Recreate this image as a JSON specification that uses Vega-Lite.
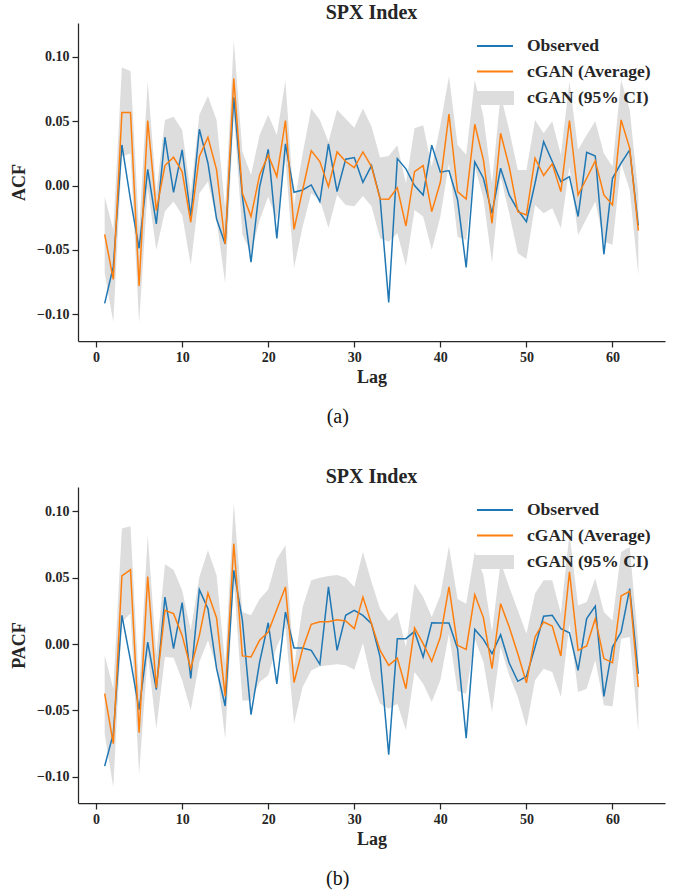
{
  "$schema": "https://vega.github.io/schema/vega-lite/v6.json",
  "padding": {"left": 10, "top": 3, "right": 5, "bottom": 5},
  "background": "white",
  "datasets": {
    "acf": [
      {"lag":1,"obs":-0.0915,"avg":-0.0379,"lo":-0.068,"hi":-0.0086},
      {"lag":2,"obs":-0.063,"avg":-0.0729,"lo":-0.106,"hi":-0.0345},
      {"lag":3,"obs":0.0316,"avg":0.0568,"lo":0.0226,"hi":0.0918},
      {"lag":4,"obs":-0.011,"avg":0.0568,"lo":0.025,"hi":0.089},
      {"lag":5,"obs":-0.0487,"avg":-0.078,"lo":-0.107,"hi":-0.035},
      {"lag":6,"obs":0.0127,"avg":0.0506,"lo":-0.002,"hi":0.081},
      {"lag":7,"obs":-0.0298,"avg":-0.0194,"lo":-0.05,"hi":-0.005},
      {"lag":8,"obs":0.0376,"avg":0.0156,"lo":-0.02,"hi":0.051},
      {"lag":9,"obs":-0.0052,"avg":0.022,"lo":-0.0124,"hi":0.0536},
      {"lag":10,"obs":0.0277,"avg":0.0109,"lo":-0.0228,"hi":0.0433},
      {"lag":11,"obs":-0.024,"avg":-0.0285,"lo":-0.0617,"hi":-0.006},
      {"lag":12,"obs":0.0438,"avg":0.0226,"lo":-0.006,"hi":0.055},
      {"lag":13,"obs":0.0174,"avg":0.0376,"lo":0.0031,"hi":0.0697},
      {"lag":14,"obs":-0.026,"avg":0.0122,"lo":-0.0267,"hi":0.051},
      {"lag":15,"obs":-0.0454,"avg":-0.0454,"lo":-0.076,"hi":-0.018},
      {"lag":16,"obs":0.0687,"avg":0.0833,"lo":0.0562,"hi":0.1127},
      {"lag":17,"obs":-0.0086,"avg":-0.006,"lo":-0.038,"hi":0.0264},
      {"lag":18,"obs":-0.0596,"avg":-0.024,"lo":-0.0526,"hi":0.0083},
      {"lag":19,"obs":-0.001,"avg":0.0083,"lo":-0.0267,"hi":0.0394},
      {"lag":20,"obs":0.0282,"avg":0.0238,"lo":-0.0086,"hi":0.055},
      {"lag":21,"obs":-0.041,"avg":0.007,"lo":-0.0267,"hi":0.0394},
      {"lag":22,"obs":0.0324,"avg":0.0506,"lo":0.02,"hi":0.0817},
      {"lag":23,"obs":-0.0052,"avg":-0.034,"lo":-0.064,"hi":-0.015},
      {"lag":24,"obs":-0.0034,"avg":-0.0034,"lo":-0.032,"hi":0.025},
      {"lag":25,"obs":0.0005,"avg":0.0272,"lo":-0.006,"hi":0.06},
      {"lag":26,"obs":-0.0125,"avg":0.0187,"lo":-0.011,"hi":0.051},
      {"lag":27,"obs":0.0324,"avg":-0.0008,"lo":-0.033,"hi":0.034},
      {"lag":28,"obs":-0.0047,"avg":0.0262,"lo":-0.0073,"hi":0.059},
      {"lag":29,"obs":0.0205,"avg":0.0187,"lo":-0.015,"hi":0.052},
      {"lag":30,"obs":0.0218,"avg":0.014,"lo":-0.016,"hi":0.045},
      {"lag":31,"obs":0.0026,"avg":0.0262,"lo":-0.008,"hi":0.06},
      {"lag":32,"obs":0.0156,"avg":0.0148,"lo":-0.016,"hi":0.046},
      {"lag":33,"obs":-0.0099,"avg":-0.0104,"lo":-0.041,"hi":0.0218},
      {"lag":34,"obs":-0.0908,"avg":-0.0106,"lo":-0.0436,"hi":0.023},
      {"lag":35,"obs":0.021,"avg":-0.0016,"lo":-0.037,"hi":0.0314},
      {"lag":36,"obs":0.013,"avg":-0.0314,"lo":-0.0625,"hi":0.0018},
      {"lag":37,"obs":0.0,"avg":0.0109,"lo":-0.019,"hi":0.0446},
      {"lag":38,"obs":-0.0073,"avg":0.0156,"lo":-0.024,"hi":0.047},
      {"lag":39,"obs":0.0314,"avg":-0.0202,"lo":-0.05,"hi":0.0148},
      {"lag":40,"obs":0.0104,"avg":0.0026,"lo":-0.024,"hi":0.047},
      {"lag":41,"obs":0.0117,"avg":0.0555,"lo":0.0174,"hi":0.085},
      {"lag":42,"obs":-0.011,"avg":-0.0047,"lo":-0.04,"hi":0.0316},
      {"lag":43,"obs":-0.0636,"avg":-0.0104,"lo":-0.042,"hi":0.0239},
      {"lag":44,"obs":0.0184,"avg":0.0477,"lo":0.0148,"hi":0.082},
      {"lag":45,"obs":0.0057,"avg":0.02,"lo":-0.0099,"hi":0.0537},
      {"lag":46,"obs":-0.0215,"avg":-0.0293,"lo":-0.06,"hi":0.0018},
      {"lag":47,"obs":0.0135,"avg":0.0407,"lo":0.007,"hi":0.0706},
      {"lag":48,"obs":-0.0073,"avg":0.0148,"lo":-0.0215,"hi":0.0433},
      {"lag":49,"obs":-0.019,"avg":-0.0202,"lo":-0.0526,"hi":0.0122},
      {"lag":50,"obs":-0.028,"avg":-0.0228,"lo":-0.057,"hi":0.0122},
      {"lag":51,"obs":0.0018,"avg":0.0213,"lo":-0.015,"hi":0.051},
      {"lag":52,"obs":0.0342,"avg":0.0078,"lo":-0.0215,"hi":0.0407},
      {"lag":53,"obs":0.0187,"avg":0.0169,"lo":-0.0176,"hi":0.05},
      {"lag":54,"obs":0.0031,"avg":-0.0047,"lo":-0.0332,"hi":0.0239},
      {"lag":55,"obs":0.007,"avg":0.0506,"lo":0.0148,"hi":0.081},
      {"lag":56,"obs":-0.024,"avg":-0.0073,"lo":-0.0384,"hi":0.0278},
      {"lag":57,"obs":0.0259,"avg":0.0057,"lo":-0.0254,"hi":0.0394},
      {"lag":58,"obs":0.023,"avg":0.0192,"lo":-0.0125,"hi":0.05},
      {"lag":59,"obs":-0.0534,"avg":-0.0073,"lo":-0.0436,"hi":0.025},
      {"lag":60,"obs":0.0057,"avg":-0.015,"lo":-0.046,"hi":0.0148},
      {"lag":61,"obs":0.0174,"avg":0.0511,"lo":0.0174,"hi":0.082},
      {"lag":62,"obs":0.0278,"avg":0.029,"lo":-0.0034,"hi":0.0589},
      {"lag":63,"obs":-0.031,"avg":-0.035,"lo":-0.0695,"hi":-0.006}
    ],
    "pacf": [
      {"lag":1,"obs":-0.092,"avg":-0.0374,"lo":-0.0676,"hi":-0.0085},
      {"lag":2,"obs":-0.0676,"avg":-0.0751,"lo":-0.108,"hi":-0.0337},
      {"lag":3,"obs":0.0216,"avg":0.0513,"lo":0.0166,"hi":0.087},
      {"lag":4,"obs":-0.0123,"avg":0.056,"lo":0.0229,"hi":0.0887},
      {"lag":5,"obs":-0.0495,"avg":-0.0668,"lo":-0.098,"hi":-0.035},
      {"lag":6,"obs":0.0015,"avg":0.0508,"lo":-0.008,"hi":0.082},
      {"lag":7,"obs":-0.0344,"avg":-0.033,"lo":-0.0638,"hi":-0.008},
      {"lag":8,"obs":0.0354,"avg":0.0254,"lo":-0.0098,"hi":0.06},
      {"lag":9,"obs":-0.0035,"avg":0.0229,"lo":-0.0103,"hi":0.056},
      {"lag":10,"obs":0.0312,"avg":0.0065,"lo":-0.0274,"hi":0.0405},
      {"lag":11,"obs":-0.026,"avg":-0.0186,"lo":-0.05,"hi":0.0103},
      {"lag":12,"obs":0.041,"avg":0.0065,"lo":-0.0136,"hi":0.0505},
      {"lag":13,"obs":0.0266,"avg":0.0384,"lo":0.0028,"hi":0.0706},
      {"lag":14,"obs":-0.0186,"avg":0.0196,"lo":-0.0173,"hi":0.0518},
      {"lag":15,"obs":-0.0467,"avg":-0.0395,"lo":-0.0714,"hi":-0.015},
      {"lag":16,"obs":0.0555,"avg":0.0756,"lo":0.048,"hi":0.1063},
      {"lag":17,"obs":0.0178,"avg":-0.009,"lo":-0.0425,"hi":0.0241},
      {"lag":18,"obs":-0.0533,"avg":-0.0098,"lo":-0.0425,"hi":0.0216},
      {"lag":19,"obs":-0.0136,"avg":0.0028,"lo":-0.0286,"hi":0.034},
      {"lag":20,"obs":0.016,"avg":0.009,"lo":-0.0236,"hi":0.041},
      {"lag":21,"obs":-0.03,"avg":0.026,"lo":-0.002,"hi":0.064},
      {"lag":22,"obs":0.0241,"avg":0.043,"lo":0.0128,"hi":0.0744},
      {"lag":23,"obs":-0.003,"avg":-0.029,"lo":-0.06,"hi":-0.0173},
      {"lag":24,"obs":-0.003,"avg":-0.0035,"lo":-0.0324,"hi":0.0279},
      {"lag":25,"obs":-0.0048,"avg":0.0148,"lo":-0.0199,"hi":0.048},
      {"lag":26,"obs":-0.0153,"avg":0.0168,"lo":-0.0168,"hi":0.05},
      {"lag":27,"obs":0.043,"avg":0.0168,"lo":-0.0161,"hi":0.0513},
      {"lag":28,"obs":-0.0048,"avg":0.0183,"lo":-0.0153,"hi":0.052},
      {"lag":29,"obs":0.0216,"avg":0.0173,"lo":-0.0161,"hi":0.05},
      {"lag":30,"obs":0.0254,"avg":0.0116,"lo":-0.0194,"hi":0.043},
      {"lag":31,"obs":0.0216,"avg":0.0354,"lo":0.0008,"hi":0.0694},
      {"lag":32,"obs":0.0153,"avg":0.0153,"lo":-0.0274,"hi":0.0467},
      {"lag":33,"obs":-0.0098,"avg":-0.0048,"lo":-0.045,"hi":0.0266},
      {"lag":34,"obs":-0.0834,"avg":-0.0161,"lo":-0.0488,"hi":0.0173},
      {"lag":35,"obs":0.004,"avg":-0.0106,"lo":-0.045,"hi":0.0241},
      {"lag":36,"obs":0.004,"avg":-0.0337,"lo":-0.065,"hi":-0.0023},
      {"lag":37,"obs":0.0095,"avg":0.0121,"lo":-0.0211,"hi":0.0455},
      {"lag":38,"obs":-0.0098,"avg":0.0003,"lo":-0.03,"hi":0.0354},
      {"lag":39,"obs":0.016,"avg":-0.0131,"lo":-0.0437,"hi":0.0204},
      {"lag":40,"obs":0.0158,"avg":0.0053,"lo":-0.0274,"hi":0.0367},
      {"lag":41,"obs":0.0158,"avg":0.043,"lo":0.0078,"hi":0.0736},
      {"lag":42,"obs":-0.0035,"avg":-0.001,"lo":-0.0354,"hi":0.034},
      {"lag":43,"obs":-0.0709,"avg":-0.004,"lo":-0.0374,"hi":0.0304},
      {"lag":44,"obs":0.011,"avg":0.0372,"lo":0.004,"hi":0.0694},
      {"lag":45,"obs":0.0035,"avg":0.0199,"lo":-0.0136,"hi":0.0518},
      {"lag":46,"obs":-0.0073,"avg":-0.0186,"lo":-0.0513,"hi":0.009},
      {"lag":47,"obs":0.007,"avg":0.0304,"lo":-0.0023,"hi":0.0618},
      {"lag":48,"obs":-0.0143,"avg":0.0128,"lo":-0.0236,"hi":0.043},
      {"lag":49,"obs":-0.0281,"avg":-0.0073,"lo":-0.04,"hi":0.0254},
      {"lag":50,"obs":-0.0244,"avg":-0.0292,"lo":-0.0626,"hi":0.0078},
      {"lag":51,"obs":-0.0023,"avg":0.0053,"lo":-0.0274,"hi":0.038},
      {"lag":52,"obs":0.0209,"avg":0.0166,"lo":-0.0186,"hi":0.048},
      {"lag":53,"obs":0.0216,"avg":0.0136,"lo":-0.0211,"hi":0.048},
      {"lag":54,"obs":0.0116,"avg":-0.009,"lo":-0.04,"hi":0.0229},
      {"lag":55,"obs":0.0085,"avg":0.0543,"lo":0.0153,"hi":0.0832},
      {"lag":56,"obs":-0.0199,"avg":-0.0048,"lo":-0.0362,"hi":0.0291},
      {"lag":57,"obs":0.0191,"avg":-0.0015,"lo":-0.0337,"hi":0.0317},
      {"lag":58,"obs":0.0286,"avg":0.0191,"lo":-0.0123,"hi":0.0493},
      {"lag":59,"obs":-0.0395,"avg":-0.011,"lo":-0.0462,"hi":0.0241},
      {"lag":60,"obs":-0.0023,"avg":-0.0141,"lo":-0.047,"hi":0.0178},
      {"lag":61,"obs":0.009,"avg":0.0362,"lo":0.004,"hi":0.0694},
      {"lag":62,"obs":0.0417,"avg":0.0397,"lo":0.0053,"hi":0.0731},
      {"lag":63,"obs":-0.0224,"avg":-0.0324,"lo":-0.0663,"hi":0.0003}
    ]
  },
  "resolve": {"scale": {"color": "independent", "x": "independent", "y": "independent"}, "legend": {"color": "independent"}},
  "spacing": 40,
  "vconcat": [
    {
      "title": {"text": "(a)", "orient": "bottom", "anchor": "middle", "fontWeight": "normal", "fontSize": 20, "offset": 21, "font": "Liberation Serif", "color": "#111111"},
      "resolve": {"scale": {"color": "independent"}, "legend": {"color": "independent"}},
      "vconcat": [
        {
          "width": 587,
          "height": 318,
          "title": {"text": "SPX Index", "offset": 0},
          "data": {"name": "acf"},
          "encoding": {
            "x": {"field": "lag", "type": "quantitative", "scale": {"domain": [-2.1, 66.1], "nice": false, "zero": false}, "axis": {"values": [0, 10, 20, 30, 40, 50, 60], "title": "Lag", "format": "d"}}
          },
          "layer": [
            {
              "mark": {"type": "area", "opacity": 1},
              "encoding": {
                "y": {"field": "lo", "type": "quantitative", "scale": {"domain": [-0.1208, 0.1264], "nice": false, "zero": false}, "axis": {"values": [-0.1, -0.05, 0, 0.05, 0.1], "format": ".2f", "title": "ACF"}},
                "y2": {"field": "hi"},
                "color": {"datum": "cGAN (95% CI)", "type": "nominal", "scale": {"domain": ["Observed", "cGAN (Average)", "cGAN (95% CI)"], "range": ["#1f77b4", "#ff7f0e", "#dddddd"]},
                  "legend": {"orient": "top-right", "title": null,
                    "encoding": {"symbols": {
                      "shape": {"value": {"expr": "datum.label === 'cGAN (95% CI)' ? 'M-2.25,-0.75H2.25V0.75H-2.25Z' : 'M-2.25,0H2.25'"}},
                      "fill": {"value": {"expr": "datum.label === 'cGAN (95% CI)' ? '#dddddd' : 'transparent'"}},
                      "stroke": {"value": {"expr": "datum.label === 'Observed' ? '#1f77b4' : (datum.label === 'cGAN (Average)' ? '#ff7f0e' : 'transparent')"}},
                      "strokeWidth": {"value": 2}, "opacity": {"value": 1}, "fillOpacity": {"value": 1}, "strokeOpacity": {"value": 1}}}}
                }
              }
            },
            {
              "mark": {"type": "line", "strokeWidth": 1.5},
              "encoding": {"y": {"field": "obs", "type": "quantitative"}, "color": {"datum": "Observed", "type": "nominal"}}
            },
            {
              "mark": {"type": "line", "strokeWidth": 1.5},
              "encoding": {"y": {"field": "avg", "type": "quantitative"}, "color": {"datum": "cGAN (Average)", "type": "nominal"}}
            }
          ]
        }
      ]
    },
    {
      "title": {"text": "(b)", "orient": "bottom", "anchor": "middle", "fontWeight": "normal", "fontSize": 20, "offset": 21, "font": "Liberation Serif", "color": "#111111"},
      "resolve": {"scale": {"color": "independent"}, "legend": {"color": "independent"}},
      "vconcat": [
        {
          "width": 587,
          "height": 316,
          "title": {"text": "SPX Index", "offset": 0},
          "data": {"name": "pacf"},
          "encoding": {
            "x": {"field": "lag", "type": "quantitative", "scale": {"domain": [-2.1, 66.1], "nice": false, "zero": false}, "axis": {"values": [0, 10, 20, 30, 40, 50, 60], "title": "Lag", "format": "d"}}
          },
          "layer": [
            {
              "mark": {"type": "area", "opacity": 1},
              "encoding": {
                "y": {"field": "lo", "type": "quantitative", "scale": {"domain": [-0.1198, 0.1183], "nice": false, "zero": false}, "axis": {"values": [-0.1, -0.05, 0, 0.05, 0.1], "format": ".2f", "title": "PACF"}},
                "y2": {"field": "hi"},
                "color": {"datum": "cGAN (95% CI)", "type": "nominal", "scale": {"domain": ["Observed", "cGAN (Average)", "cGAN (95% CI)"], "range": ["#1f77b4", "#ff7f0e", "#dddddd"]},
                  "legend": {"orient": "top-right", "title": null,
                    "encoding": {"symbols": {
                      "shape": {"value": {"expr": "datum.label === 'cGAN (95% CI)' ? 'M-2.25,-0.75H2.25V0.75H-2.25Z' : 'M-2.25,0H2.25'"}},
                      "fill": {"value": {"expr": "datum.label === 'cGAN (95% CI)' ? '#dddddd' : 'transparent'"}},
                      "stroke": {"value": {"expr": "datum.label === 'Observed' ? '#1f77b4' : (datum.label === 'cGAN (Average)' ? '#ff7f0e' : 'transparent')"}},
                      "strokeWidth": {"value": 2}, "opacity": {"value": 1}, "fillOpacity": {"value": 1}, "strokeOpacity": {"value": 1}}}}
                }
              }
            },
            {
              "mark": {"type": "line", "strokeWidth": 1.5},
              "encoding": {"y": {"field": "obs", "type": "quantitative"}, "color": {"datum": "Observed", "type": "nominal"}}
            },
            {
              "mark": {"type": "line", "strokeWidth": 1.5},
              "encoding": {"y": {"field": "avg", "type": "quantitative"}, "color": {"datum": "cGAN (Average)", "type": "nominal"}}
            }
          ]
        }
      ]
    }
  ],
  "config": {
    "font": "Liberation Serif",
    "view": {"stroke": null},
    "axis": {
      "grid": false,
      "domainColor": "#262626", "tickColor": "#262626", "domainWidth": 1.25, "tickWidth": 1.25, "tickSize": 6,
      "labelFont": "Liberation Serif", "labelFontWeight": "bold", "labelFontSize": 14, "labelColor": "#262626", "labelPadding": 3,
      "titleFont": "Liberation Serif", "titleFontWeight": "bold", "titleFontSize": 18, "titleColor": "#262626"
    },
    "axisY": {"titlePadding": 8},
    "axisX": {"titlePadding": 4},
    "title": {"font": "Liberation Serif", "fontWeight": "bold", "fontSize": 20, "color": "#262626"},
    "legend": {
      "labelFont": "Liberation Serif", "labelFontWeight": "bold", "labelFontSize": 17.5, "labelColor": "#262626",
      "symbolSize": 256, "labelOffset": 23, "offset": 14, "padding": 0, "rowPadding": 7.5, "symbolStrokeWidth": 2
    }
  }
}
